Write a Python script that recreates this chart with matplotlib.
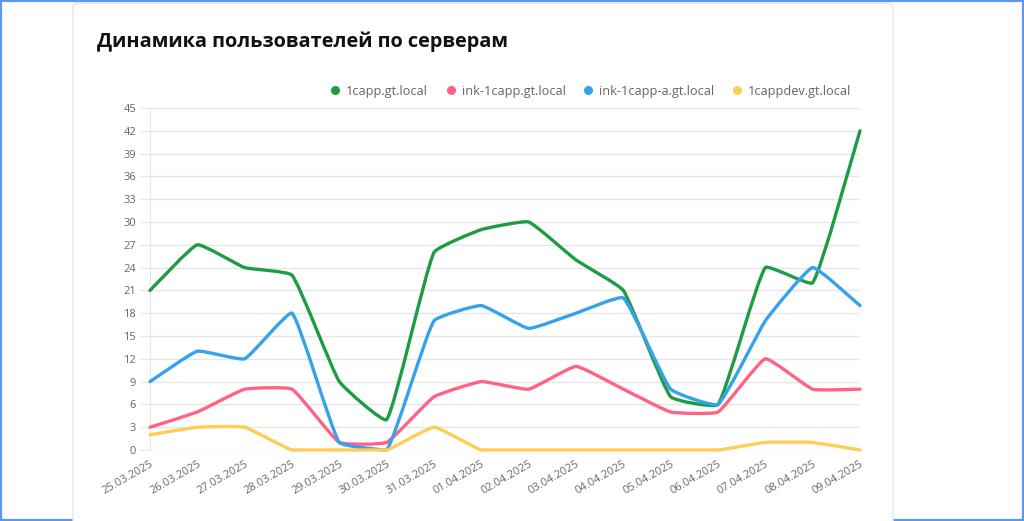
import matplotlib
matplotlib.use("Agg")
import matplotlib.pyplot as plt
from matplotlib.path import Path
from matplotlib.patches import PathPatch, FancyBboxPatch, Rectangle
from matplotlib.lines import Line2D
import numpy as np

# Данные
dates = ["25.03.2025", "26.03.2025", "27.03.2025", "28.03.2025", "29.03.2025",
         "30.03.2025", "31.03.2025", "01.04.2025", "02.04.2025", "03.04.2025",
         "04.04.2025", "05.04.2025", "06.04.2025", "07.04.2025", "08.04.2025",
         "09.04.2025"]
servers = ["1capp.gt.local", "ink-1capp.gt.local", "ink-1capp-a.gt.local", "1cappdev.gt.local"]
capp = [21, 27, 24, 23, 9, 4, 26, 29, 30, 25, 21, 7, 6, 24, 22, 42]
ink_capp = [3, 5, 8, 8, 1, 1, 7, 9, 8, 11, 8, 5, 5, 12, 8, 8]
ink_capp_a = [9, 13, 12, 18, 1, 0, 17, 19, 16, 18, 20, 8, 6, 17, 24, 19]
cappdev = [2, 3, 3, 0, 0, 0, 3, 0, 0, 0, 0, 0, 0, 1, 1, 0]
colors = ["#1e9c43", "#ff6384", "#36a2eb", "#ffcd56"]

W, H = 1024, 521
fig = plt.figure(figsize=(W / 100, H / 100), dpi=100)
fig.patch.set_facecolor("white")


def fx(px):
    return px / W


def fy(py):
    return 1 - py / H


# рамка картинки и карточка (под осями)
fig.patches.append(Rectangle((0.001, 0.002), 0.998, 0.996, transform=fig.transFigure,
                             fill=False, edgecolor="#5e97f2", linewidth=1.6, zorder=-2))
fig.patches.append(FancyBboxPatch((fx(73), fy(540)), fx(893) - fx(73), fy(3) - fy(540),
                                  boxstyle="round,pad=0,rounding_size=0.008",
                                  transform=fig.transFigure, facecolor="white",
                                  edgecolor="#e3e6ec", linewidth=1.0, zorder=-1))

fig.text(fx(97), fy(42), "Динамика пользователей по серверам", fontsize=14.3,
         fontweight="bold", family=["Open Sans", "DejaVu Sans"], color="#111111",
         va="center", ha="left")

ax = fig.add_axes([fx(150), fy(450), fx(860) - fx(150), fy(108) - fy(450)])
ax.set_facecolor("none")
x = np.arange(len(dates))
ax.set_xlim(0, len(dates) - 1)
ax.set_ylim(0, 45)
ax.set_yticks(np.arange(0, 46, 3))
ax.set_xticks(x)
ax.set_xticklabels(dates, rotation=30, ha="right", rotation_mode="anchor",
                   fontsize=8, color="#666666", family="Open Sans")
for lab in ax.get_yticklabels():
    lab.set_fontsize(8)
    lab.set_color("#666666")
    lab.set_family("Open Sans")
ax.tick_params(axis="y", length=7, color="#e6e6e6", pad=3)
ax.tick_params(axis="x", length=0, pad=6)
ax.grid(axis="y", color="#e6e6e6", linewidth=1)
ax.set_axisbelow(True)
for s in ["top", "right", "bottom"]:
    ax.spines[s].set_visible(False)
ax.spines["left"].set_color("#e6e6e6")


def spline_path(xs, ys, tension=0.12):
    # как в Chart.js: контрольные точки в пикселях, обрезка по области графика
    pts = ax.transData.transform(np.column_stack([xs, ys]))
    y_lo, y_hi = ax.transData.transform([(0, 0), (0, 45)])[:, 1]
    n = len(pts)
    verts = [pts[0]]
    codes = [Path.MOVETO]
    cps = []
    for i in range(n):
        prev = pts[i - 1] if i > 0 else pts[i]
        cur = pts[i]
        nxt = pts[i + 1] if i < n - 1 else pts[i]
        d01 = np.hypot(*(cur - prev))
        d12 = np.hypot(*(nxt - cur))
        tot = d01 + d12
        s01 = d01 / tot if tot else 0
        s12 = d12 / tot if tot else 0
        cp_prev = cur - tension * s01 * (nxt - prev)
        cp_next = cur + tension * s12 * (nxt - prev)
        cp_prev[1] = min(max(cp_prev[1], y_lo), y_hi)
        cp_next[1] = min(max(cp_next[1], y_lo), y_hi)
        cps.append((cp_prev, cp_next))
    for i in range(1, n):
        verts += [cps[i - 1][1], cps[i][0], pts[i]]
        codes += [Path.CURVE4] * 3
    data = ax.transData.inverted().transform(np.array(verts))
    return Path(data, codes)


for vals, c in zip([capp, ink_capp, ink_capp_a, cappdev], colors):
    ax.add_patch(PathPatch(spline_path(x, vals), facecolor="none", edgecolor=c,
                           linewidth=2.4, capstyle="round", joinstyle="round",
                           clip_on=False, zorder=3))

handles = [Line2D([], [], marker="o", linestyle="", markersize=5.5, color=c) for c in colors]
fig.legend(handles, servers, loc="center", bbox_to_anchor=(fx(590), fy(91)), ncol=4,
           frameon=False, handletextpad=0.35, columnspacing=1.3, handlelength=1.0,
           prop={"family": "Open Sans", "size": 9.2}, labelcolor="#666666")

fig.savefig("out.png", dpi=100)
